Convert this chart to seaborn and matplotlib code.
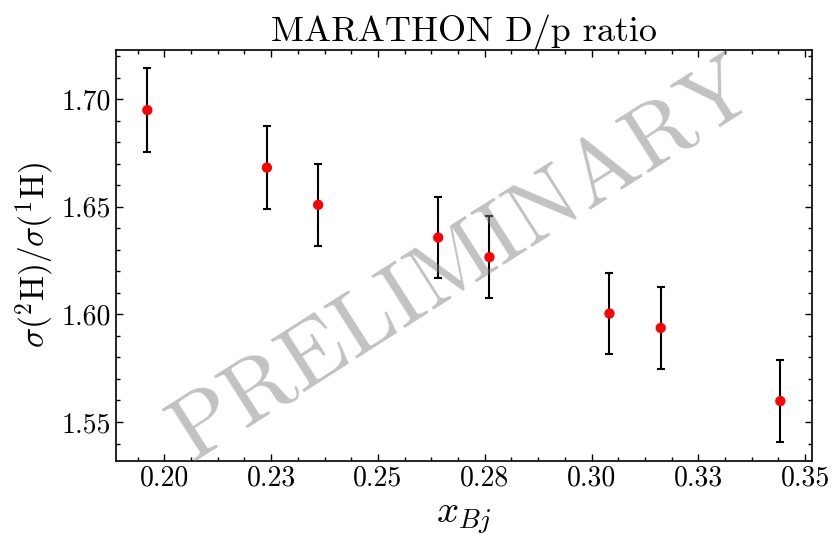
import numpy as np
import pandas as pd
import matplotlib
matplotlib.use('Agg')
import matplotlib.pyplot as plt
import seaborn as sns
from matplotlib.ticker import MultipleLocator, AutoMinorLocator, FormatStrFormatter

# 数据
x_bj = [0.1960, 0.2240, 0.2360, 0.2641, 0.2761, 0.3042, 0.3162, 0.3442]
ratio = [1.6949, 1.6682, 1.6509, 1.6357, 1.6266, 1.6004, 1.5937, 1.5597]
ratio_err = [0.0194, 0.0193, 0.0190, 0.0187, 0.0189, 0.0190, 0.0190, 0.0190]

df = pd.DataFrame({'x': x_bj, 'ratio': ratio, 'err': ratio_err})

sns.set_style('ticks')
plt.rcParams['font.family'] = 'serif'
plt.rcParams['font.serif'] = ['cmr10', 'DejaVu Serif']
plt.rcParams['mathtext.fontset'] = 'cm'
plt.rcParams['axes.formatter.use_mathtext'] = True
plt.rcParams['axes.unicode_minus'] = False
plt.rcParams['text.color'] = 'black'
plt.rcParams['axes.labelcolor'] = 'black'
plt.rcParams['xtick.color'] = 'black'
plt.rcParams['ytick.color'] = 'black'
plt.rcParams['axes.edgecolor'] = 'black'

fig, ax = plt.subplots(figsize=(8.34, 5.35), dpi=100)
fig.subplots_adjust(left=0.1387, right=0.9736, top=0.9071, bottom=0.1389)

ax.errorbar(df['x'], df['ratio'], yerr=df['err'], fmt='none', ecolor='black',
            elinewidth=1.5, capsize=3, capthick=1.5, zorder=2)
sns.scatterplot(data=df, x='x', y='ratio', color='red', s=55, edgecolor='none',
                ax=ax, zorder=3)

# 水印
ax.text(0.50, 0.485, 'PRELIMINARY', transform=ax.transAxes, fontsize=66,
        color='gray', alpha=0.48, rotation=32.5, ha='center', va='center')

ax.set_title('MARATHON D/p ratio', fontsize=26, color='black')
ax.set_xlabel(r'$x_{Bj}$', fontsize=28, labelpad=6)
ax.set_ylabel(r'$\sigma(^2\mathrm{H})/\sigma(^1\mathrm{H})$', fontsize=24)

ax.xaxis.set_major_locator(MultipleLocator(0.025))
ax.yaxis.set_major_locator(MultipleLocator(0.05))
ax.xaxis.set_minor_locator(AutoMinorLocator(4))
ax.yaxis.set_minor_locator(AutoMinorLocator(5))
ax.xaxis.set_major_formatter(FormatStrFormatter('%.2f'))
ax.yaxis.set_major_formatter(FormatStrFormatter('%.2f'))
ax.tick_params(which='both', direction='in', top=True, right=True, labelsize=20,
               colors='black')
ax.tick_params(which='major', length=5, width=1)
ax.tick_params(which='minor', length=3, width=1)
for sp in ax.spines.values():
    sp.set_linewidth(1.2)
    sp.set_color('black')

plt.savefig('out.png', dpi=100)
